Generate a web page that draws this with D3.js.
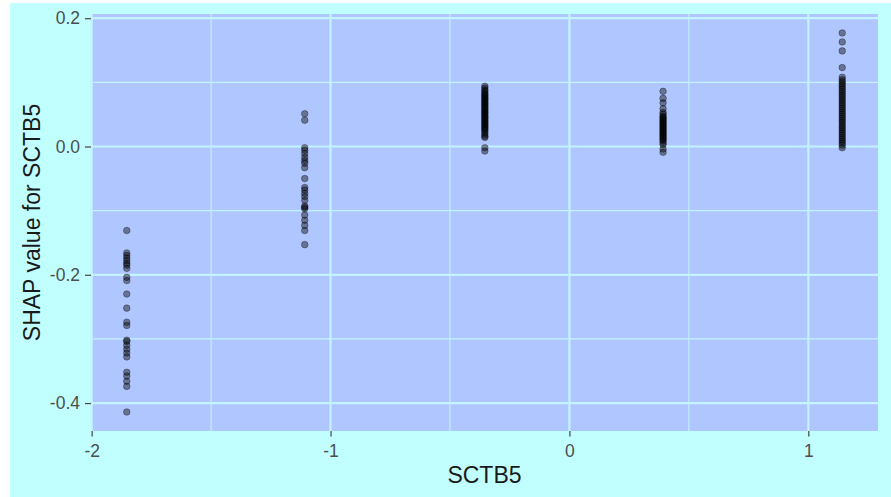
<!DOCTYPE html>
<html>
<head>
<meta charset="utf-8">
<script src="https://cdn.jsdelivr.net/npm/d3@7"></script>
<style>
  html, body { margin: 0; padding: 0; background: #ffffff; }
  svg { display: block; font-family: "Liberation Sans", Arial, sans-serif; }
</style>
</head>
<body>
<svg id="chart" width="891" height="497"></svg>
<script>
// Feature levels of SCTB5 (standardised) and their SHAP values
const xLevels = [-1.853, -1.108, -0.354, 0.392, 1.142];

const shapLevel1 = [-0.131, -0.166, -0.170, -0.174, -0.178, -0.182, -0.185, -0.190, -0.204, -0.209,
  -0.230, -0.252, -0.274, -0.279, -0.302, -0.304, -0.310, -0.316, -0.322, -0.328,
  -0.352, -0.358, -0.366, -0.374, -0.414];
const shapLevel2 = [0.051, 0.041, -0.002, -0.006, -0.011, -0.017, -0.022, -0.026, -0.033, -0.050,
  -0.064, -0.068, -0.073, -0.078, -0.084, -0.093, -0.095, -0.097, -0.107, -0.115,
  -0.123, -0.131, -0.153];
const shapLevel3 = [0.094, 0.091, 0.088, 0.086, 0.083, 0.081, 0.079, 0.077, 0.075, 0.073,
  0.071, 0.069, 0.067, 0.065, 0.063, 0.061, 0.059, 0.057, 0.055, 0.053,
  0.051, 0.049, 0.047, 0.045, 0.043, 0.041, 0.039, 0.037, 0.035, 0.033,
  0.031, 0.029, 0.027, 0.025, 0.022, 0.019, 0.016, 0.014, -0.002, -0.007];
const shapLevel4 = [0.086, 0.075, 0.068, 0.059, 0.053, 0.050, 0.047, 0.045, 0.043, 0.041,
  0.039, 0.037, 0.035, 0.033, 0.031, 0.029, 0.027, 0.025, 0.023, 0.021,
  0.019, 0.017, 0.015, 0.013, 0.011, 0.009, 0.006, 0.003, -0.004, -0.009];
const shapLevel5 = [0.177, 0.163, 0.149, 0.123, 0.108, 0.104, 0.101, 0.098, 0.095, 0.092,
  0.089, 0.086, 0.083, 0.080, 0.077, 0.074, 0.071, 0.068, 0.065, 0.062,
  0.059, 0.056, 0.053, 0.050, 0.047, 0.044, 0.041, 0.038, 0.035, 0.032,
  0.029, 0.026, 0.023, 0.020, 0.017, 0.014, 0.011, 0.008, 0.005, 0.002, -0.002];

const xTicks = [-2, -1, 0, 1];
const xMinor = [-1.5, -0.5, 0.5];
const yTicks = [0.2, 0.0, -0.2, -0.4];
const yMinor = [0.1, -0.1, -0.3];

const allSeries = [shapLevel1, shapLevel2, shapLevel3, shapLevel4, shapLevel5];
const points = [];
allSeries.forEach((vals, i) => vals.forEach(v => points.push({ x: xLevels[i], y: v })));

const svg = d3.select("#chart");
const W = 891, H = 497;
const panel = { left: 91, right: 878, top: 14, bottom: 431 };

// page background
svg.append("rect").attr("x", 10).attr("y", 3).attr("width", W - 10).attr("height", H - 3)
  .attr("fill", "#c1ffff");

// ggplot-style 5% expansion around the data range
const xs = points.map(d => d.x), ys = points.map(d => d.y);
const xr = d3.extent(xs), yr = d3.extent(ys);
const xPad = (xr[1] - xr[0]) * 0.05, yPad = (yr[1] - yr[0]) * 0.05;

const x = d3.scaleLinear().domain([xr[0] - xPad, xr[1] + xPad]).range([panel.left, panel.right]);
const y = d3.scaleLinear().domain([yr[0] - yPad, yr[1] + yPad]).range([panel.bottom, panel.top]);

svg.append("rect")
  .attr("x", panel.left).attr("y", panel.top)
  .attr("width", panel.right - panel.left).attr("height", panel.bottom - panel.top)
  .attr("fill", "#b0c6ff");

const grid = svg.append("g").attr("stroke", "#c4f2fd");
grid.selectAll(".ymin").data(yMinor).join("line")
  .attr("x1", panel.left).attr("x2", panel.right)
  .attr("y1", d => y(d)).attr("y2", d => y(d)).attr("stroke-width", 1.1);
grid.selectAll(".xmin").data(xMinor).join("line")
  .attr("y1", panel.top).attr("y2", panel.bottom)
  .attr("x1", d => x(d)).attr("x2", d => x(d)).attr("stroke-width", 1.1);
grid.selectAll(".ymaj").data(yTicks).join("line")
  .attr("x1", panel.left).attr("x2", panel.right)
  .attr("y1", d => y(d)).attr("y2", d => y(d)).attr("stroke-width", 2.2);
grid.selectAll(".xmaj").data(xTicks).join("line")
  .attr("y1", panel.top).attr("y2", panel.bottom)
  .attr("x1", d => x(d)).attr("x2", d => x(d)).attr("stroke-width", 2.2);

// points
svg.append("g").selectAll("circle").data(points).join("circle")
  .attr("cx", d => x(d.x)).attr("cy", d => y(d.y)).attr("r", 3.3)
  .attr("fill", "#000").attr("fill-opacity", 0.42)
  .attr("stroke", "#000").attr("stroke-opacity", 0.35).attr("stroke-width", 0.9);

// axes
const xAxis = svg.append("g").attr("transform", `translate(0,${panel.bottom})`)
  .call(d3.axisBottom(x).tickValues(xTicks).tickSize(5.5).tickPadding(8.5));
const yAxis = svg.append("g").attr("transform", `translate(${panel.left},0)`)
  .call(d3.axisLeft(y).tickValues(yTicks).tickSize(6).tickPadding(5));
[xAxis, yAxis].forEach(a => {
  a.select(".domain").remove();
  a.selectAll(".tick line").attr("stroke", "#444").attr("stroke-width", 1.2);
  a.selectAll(".tick text").attr("fill", "#4d4d4d").attr("font-size", 17.5)
    .attr("font-family", "Liberation Sans, Arial, sans-serif");
});
xAxis.selectAll(".tick text").text(d => d3.format("d")(d).replace("−", "-"));
yAxis.selectAll(".tick text").text(d => d3.format(".1f")(d).replace("−", "-"));

// axis titles
svg.append("text").attr("x", (panel.left + panel.right) / 2).attr("y", 483)
  .attr("text-anchor", "middle").attr("font-size", 23).attr("fill", "#1a1a1a").text("SCTB5");
svg.append("text").attr("transform", `translate(40,${(panel.top + panel.bottom) / 2}) rotate(-90)`)
  .attr("text-anchor", "middle").attr("font-size", 23).attr("fill", "#1a1a1a").text("SHAP value for SCTB5");
</script>
</body>
</html>
